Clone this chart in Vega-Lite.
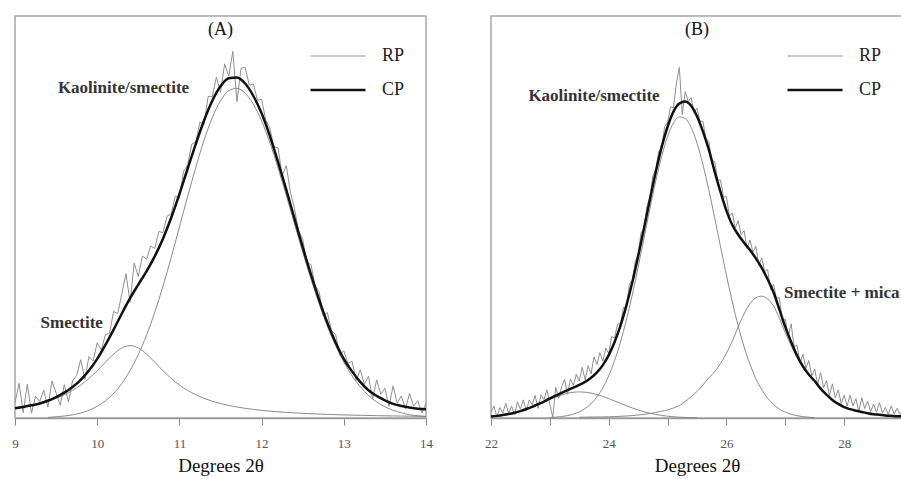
{
 "$schema": "https://vega.github.io/schema/vega-lite/v6.json",
 "background": "white",
 "padding": {"left": 9, "top": 15, "right": 1, "bottom": 0},
 "bounds": "flush",
 "spacing": 65,
 "config": {
  "view": {"stroke": "#a6a6a6", "strokeWidth": 1.5},
  "font": "Liberation Serif",
  "axis": {"domainColor": "#9a9a9a", "domainWidth": 1.5, "tickColor": "#888888", "tickSize": 7, "tickWidth": 1, "labelColor": "#555555", "labelFontSize": 13, "labelFont": "Liberation Serif", "labelPadding": 12, "labelFlush": false, "labelOverlap": false, "titleFont": "Liberation Serif", "titleFontSize": 19, "titleFontWeight": "normal", "titleColor": "#111111", "titlePadding": 6, "grid": false}
 },
 "resolve": {"scale": {"color": "independent", "strokeWidth": "independent"}, "legend": {"color": "independent", "strokeWidth": "independent"}},
 "datasets": {
  "a": [
   {"t":9.00,"s":"RP","v":3.9},{"t":9.05,"s":"RP","v":8.6},{"t":9.10,"s":"RP","v":1.3},{"t":9.15,"s":"RP","v":8.4},{"t":9.20,"s":"RP","v":1.2},{"t":9.25,"s":"RP","v":5.4},{"t":9.30,"s":"RP","v":4.1},{"t":9.35,"s":"RP","v":6.9},{"t":9.40,"s":"RP","v":2.7},{"t":9.45,"s":"RP","v":9.2},{"t":9.50,"s":"RP","v":6.2},{"t":9.55,"s":"RP","v":3.2},{"t":9.60,"s":"RP","v":8.3},{"t":9.65,"s":"RP","v":4.0},{"t":9.70,"s":"RP","v":9.2},{"t":9.75,"s":"RP","v":10.6},{"t":9.80,"s":"RP","v":14.5},{"t":9.85,"s":"RP","v":9.6},{"t":9.90,"s":"RP","v":15.3},{"t":9.95,"s":"RP","v":14.2},
   {"t":10.00,"s":"RP","v":18.7},{"t":10.05,"s":"RP","v":16.9},{"t":10.10,"s":"RP","v":20.7},{"t":10.15,"s":"RP","v":21.1},{"t":10.20,"s":"RP","v":26.5},{"t":10.25,"s":"RP","v":26.0},{"t":10.30,"s":"RP","v":31.0},{"t":10.35,"s":"RP","v":35.9},{"t":10.40,"s":"RP","v":28.8},{"t":10.45,"s":"RP","v":38.5},{"t":10.50,"s":"RP","v":35.2},{"t":10.55,"s":"RP","v":40.3},{"t":10.60,"s":"RP","v":39.5},{"t":10.65,"s":"RP","v":42.8},{"t":10.70,"s":"RP","v":42.2},{"t":10.75,"s":"RP","v":46.4},{"t":10.80,"s":"RP","v":46.1},{"t":10.85,"s":"RP","v":50.2},{"t":10.90,"s":"RP","v":50.8},{"t":10.95,"s":"RP","v":55.2},
   {"t":11.00,"s":"RP","v":54.7},{"t":11.05,"s":"RP","v":61.3},{"t":11.10,"s":"RP","v":63.0},{"t":11.15,"s":"RP","v":68.1},{"t":11.20,"s":"RP","v":68.7},{"t":11.25,"s":"RP","v":73.6},{"t":11.30,"s":"RP","v":73.0},{"t":11.35,"s":"RP","v":80.0},{"t":11.40,"s":"RP","v":79.9},{"t":11.45,"s":"RP","v":84.8},{"t":11.50,"s":"RP","v":81.0},{"t":11.55,"s":"RP","v":88.1},{"t":11.60,"s":"RP","v":85.0},{"t":11.65,"s":"RP","v":91.2},{"t":11.70,"s":"RP","v":78.7},{"t":11.75,"s":"RP","v":87.0},{"t":11.80,"s":"RP","v":87.2},{"t":11.85,"s":"RP","v":82.8},{"t":11.90,"s":"RP","v":83.1},{"t":11.95,"s":"RP","v":79.0},
   {"t":12.00,"s":"RP","v":79.3},{"t":12.05,"s":"RP","v":74.1},{"t":12.10,"s":"RP","v":72.2},{"t":12.15,"s":"RP","v":67.5},{"t":12.20,"s":"RP","v":67.2},{"t":12.25,"s":"RP","v":60.3},{"t":12.30,"s":"RP","v":62.8},{"t":12.35,"s":"RP","v":56.2},{"t":12.40,"s":"RP","v":52.1},{"t":12.45,"s":"RP","v":46.5},{"t":12.50,"s":"RP","v":44.5},{"t":12.55,"s":"RP","v":38.6},{"t":12.60,"s":"RP","v":38.2},{"t":12.65,"s":"RP","v":33.0},{"t":12.70,"s":"RP","v":31.4},{"t":12.75,"s":"RP","v":25.5},{"t":12.80,"s":"RP","v":26.2},{"t":12.85,"s":"RP","v":21.7},{"t":12.90,"s":"RP","v":20.8},{"t":12.95,"s":"RP","v":15.7},
   {"t":13.00,"s":"RP","v":16.7},{"t":13.05,"s":"RP","v":13.6},{"t":13.10,"s":"RP","v":14.1},{"t":13.15,"s":"RP","v":9.3},{"t":13.20,"s":"RP","v":12.0},{"t":13.25,"s":"RP","v":8.4},{"t":13.30,"s":"RP","v":10.4},{"t":13.35,"s":"RP","v":4.7},{"t":13.40,"s":"RP","v":9.5},{"t":13.45,"s":"RP","v":5.9},{"t":13.50,"s":"RP","v":7.4},{"t":13.55,"s":"RP","v":2.9},{"t":13.60,"s":"RP","v":8.0},{"t":13.65,"s":"RP","v":3.7},{"t":13.70,"s":"RP","v":5.5},{"t":13.75,"s":"RP","v":2.3},{"t":13.80,"s":"RP","v":6.1},{"t":13.85,"s":"RP","v":2.95},{"t":13.90,"s":"RP","v":4.3},{"t":13.95,"s":"RP","v":1.25},{"t":14.00,"s":"RP","v":3.7},
   {"t":9.0,"s":"CP","v":2.4},{"t":9.1,"s":"CP","v":2.75},{"t":9.2,"s":"CP","v":3.15},{"t":9.3,"s":"CP","v":3.6},{"t":9.4,"s":"CP","v":4.3},{"t":9.5,"s":"CP","v":5.2},{"t":9.6,"s":"CP","v":6.3},{"t":9.7,"s":"CP","v":7.7},{"t":9.8,"s":"CP","v":9.5},{"t":9.9,"s":"CP","v":11.8},{"t":10.0,"s":"CP","v":14.7},{"t":10.1,"s":"CP","v":18.2},{"t":10.2,"s":"CP","v":22.0},{"t":10.3,"s":"CP","v":26.0},{"t":10.4,"s":"CP","v":29.8},{"t":10.5,"s":"CP","v":33.2},{"t":10.6,"s":"CP","v":36.5},{"t":10.7,"s":"CP","v":40.2},{"t":10.8,"s":"CP","v":44.6},{"t":10.9,"s":"CP","v":49.8},{"t":11.0,"s":"CP","v":55.7},{"t":11.1,"s":"CP","v":62.0},{"t":11.2,"s":"CP","v":68.2},{"t":11.3,"s":"CP","v":74.0},{"t":11.4,"s":"CP","v":78.9},{"t":11.5,"s":"CP","v":82.5},{"t":11.6,"s":"CP","v":84.5},{"t":11.7,"s":"CP","v":84.7},{"t":11.8,"s":"CP","v":83.2},{"t":11.9,"s":"CP","v":80.1},{"t":12.0,"s":"CP","v":75.8},{"t":12.1,"s":"CP","v":70.2},{"t":12.2,"s":"CP","v":63.7},{"t":12.3,"s":"CP","v":56.8},{"t":12.4,"s":"CP","v":49.6},{"t":12.5,"s":"CP","v":42.5},{"t":12.6,"s":"CP","v":35.7},{"t":12.7,"s":"CP","v":29.4},{"t":12.8,"s":"CP","v":23.7},{"t":12.9,"s":"CP","v":18.8},{"t":13.0,"s":"CP","v":14.7},{"t":13.1,"s":"CP","v":11.6},{"t":13.2,"s":"CP","v":9.0},{"t":13.3,"s":"CP","v":6.9},{"t":13.4,"s":"CP","v":5.5},{"t":13.5,"s":"CP","v":4.4},{"t":13.6,"s":"CP","v":3.5},{"t":13.7,"s":"CP","v":3.0},{"t":13.8,"s":"CP","v":2.6},{"t":13.9,"s":"CP","v":2.3},{"t":14.0,"s":"CP","v":2.2},
   {"t":9.0,"s":"S","v":2.41},{"t":9.1,"s":"S","v":2.73},{"t":9.2,"s":"S","v":3.13},{"t":9.3,"s":"S","v":3.6},{"t":9.4,"s":"S","v":4.18},{"t":9.5,"s":"S","v":4.89},{"t":9.6,"s":"S","v":5.78},{"t":9.7,"s":"S","v":6.87},{"t":9.8,"s":"S","v":8.22},{"t":9.9,"s":"S","v":9.86},{"t":10.0,"s":"S","v":11.77},{"t":10.1,"s":"S","v":13.87},{"t":10.2,"s":"S","v":15.9},{"t":10.3,"s":"S","v":17.42},{"t":10.4,"s":"S","v":18.0},{"t":10.5,"s":"S","v":17.42},{"t":10.6,"s":"S","v":15.9},{"t":10.7,"s":"S","v":13.87},{"t":10.8,"s":"S","v":11.77},{"t":10.9,"s":"S","v":9.86},{"t":11.0,"s":"S","v":8.22},{"t":11.1,"s":"S","v":6.87},{"t":11.2,"s":"S","v":5.78},{"t":11.3,"s":"S","v":4.89},{"t":11.4,"s":"S","v":4.18},{"t":11.5,"s":"S","v":3.6},{"t":11.6,"s":"S","v":3.13},{"t":11.7,"s":"S","v":2.73},{"t":11.8,"s":"S","v":2.41},{"t":11.9,"s":"S","v":2.13},{"t":12.0,"s":"S","v":1.9},{"t":12.1,"s":"S","v":1.71},{"t":12.2,"s":"S","v":1.54},{"t":12.3,"s":"S","v":1.39},{"t":12.4,"s":"S","v":1.27},{"t":12.5,"s":"S","v":1.16},{"t":12.6,"s":"S","v":1.06},{"t":12.7,"s":"S","v":0.97},{"t":12.8,"s":"S","v":0.9},{"t":12.9,"s":"S","v":0.83},{"t":13.0,"s":"S","v":0.77},{"t":13.2,"s":"S","v":0.67},{"t":13.4,"s":"S","v":0.585},{"t":13.6,"s":"S","v":0.516},{"t":13.8,"s":"S","v":0.46},{"t":14.0,"s":"S","v":0.41},
   {"t":9.4,"s":"K","v":0.15},{"t":9.5,"s":"K","v":0.3},{"t":9.6,"s":"K","v":0.49},{"t":9.7,"s":"K","v":0.79},{"t":9.8,"s":"K","v":1.25},{"t":9.9,"s":"K","v":1.93},{"t":10.0,"s":"K","v":2.9},{"t":10.1,"s":"K","v":4.3},{"t":10.2,"s":"K","v":6.1},{"t":10.3,"s":"K","v":8.6},{"t":10.4,"s":"K","v":11.8},{"t":10.5,"s":"K","v":15.8},{"t":10.6,"s":"K","v":20.6},{"t":10.7,"s":"K","v":26.3},{"t":10.8,"s":"K","v":32.8},{"t":10.9,"s":"K","v":39.9},{"t":11.0,"s":"K","v":47.5},{"t":11.1,"s":"K","v":55.1},{"t":11.2,"s":"K","v":62.4},{"t":11.3,"s":"K","v":69.1},{"t":11.4,"s":"K","v":74.7},{"t":11.5,"s":"K","v":78.9},{"t":11.6,"s":"K","v":81.4},{"t":11.7,"s":"K","v":82.0},{"t":11.8,"s":"K","v":80.8},{"t":11.9,"s":"K","v":78.0},{"t":12.0,"s":"K","v":73.9},{"t":12.1,"s":"K","v":68.5},{"t":12.2,"s":"K","v":62.2},{"t":12.3,"s":"K","v":55.4},{"t":12.4,"s":"K","v":48.3},{"t":12.5,"s":"K","v":41.3},{"t":12.6,"s":"K","v":34.6},{"t":12.7,"s":"K","v":28.4},{"t":12.8,"s":"K","v":22.8},{"t":12.9,"s":"K","v":18.0},{"t":13.0,"s":"K","v":13.9},{"t":13.1,"s":"K","v":10.5},{"t":13.2,"s":"K","v":7.8},{"t":13.3,"s":"K","v":5.6},{"t":13.4,"s":"K","v":4.0},{"t":13.5,"s":"K","v":2.8},{"t":13.6,"s":"K","v":1.9},{"t":13.7,"s":"K","v":1.3},{"t":13.8,"s":"K","v":0.8},{"t":13.9,"s":"K","v":0.55},{"t":14.0,"s":"K","v":0.35}
  ],
  "b": [
   {"t":22.00,"s":"RP","v":1.4},{"t":22.05,"s":"RP","v":3.0},{"t":22.10,"s":"RP","v":0.2},{"t":22.15,"s":"RP","v":2.6},{"t":22.20,"s":"RP","v":1.2},{"t":22.25,"s":"RP","v":3.65},{"t":22.30,"s":"RP","v":1.2},{"t":22.35,"s":"RP","v":2.95},{"t":22.40,"s":"RP","v":0.8},{"t":22.45,"s":"RP","v":4.0},{"t":22.50,"s":"RP","v":2.2},{"t":22.55,"s":"RP","v":4.5},{"t":22.60,"s":"RP","v":1.7},{"t":22.65,"s":"RP","v":4.5},{"t":22.70,"s":"RP","v":3.3},{"t":22.75,"s":"RP","v":5.6},{"t":22.80,"s":"RP","v":2.4},{"t":22.85,"s":"RP","v":5.75},{"t":22.90,"s":"RP","v":4.6},{"t":22.95,"s":"RP","v":7.0},
   {"t":23.00,"s":"RP","v":3.4},{"t":23.05,"s":"RP","v":0.2},{"t":23.10,"s":"RP","v":7.6},{"t":23.15,"s":"RP","v":4.9},{"t":23.20,"s":"RP","v":7.75},{"t":23.25,"s":"RP","v":9.6},{"t":23.30,"s":"RP","v":5.9},{"t":23.35,"s":"RP","v":9.7},{"t":23.40,"s":"RP","v":8.1},{"t":23.45,"s":"RP","v":10.9},{"t":23.50,"s":"RP","v":9.2},{"t":23.55,"s":"RP","v":12.6},{"t":23.60,"s":"RP","v":9.5},{"t":23.65,"s":"RP","v":13.0},{"t":23.70,"s":"RP","v":11.0},{"t":23.75,"s":"RP","v":15.2},{"t":23.80,"s":"RP","v":13.3},{"t":23.85,"s":"RP","v":16.25},{"t":23.90,"s":"RP","v":14.15},{"t":23.95,"s":"RP","v":17.4},
   {"t":24.00,"s":"RP","v":16.1},{"t":24.05,"s":"RP","v":20.3},{"t":24.10,"s":"RP","v":19.9},{"t":24.15,"s":"RP","v":23.4},{"t":24.20,"s":"RP","v":23.5},{"t":24.25,"s":"RP","v":27.5},{"t":24.30,"s":"RP","v":27.45},{"t":24.35,"s":"RP","v":33.3},{"t":24.40,"s":"RP","v":34.2},{"t":24.45,"s":"RP","v":38.9},{"t":24.50,"s":"RP","v":40.7},{"t":24.55,"s":"RP","v":46.2},{"t":24.60,"s":"RP","v":46.75},{"t":24.65,"s":"RP","v":52.8},{"t":24.70,"s":"RP","v":54.9},{"t":24.75,"s":"RP","v":60.3},{"t":24.80,"s":"RP","v":61.8},{"t":24.85,"s":"RP","v":66.4},{"t":24.90,"s":"RP","v":66.9},{"t":24.95,"s":"RP","v":72.5},
   {"t":25.00,"s":"RP","v":73.45},{"t":25.05,"s":"RP","v":77.4},{"t":25.10,"s":"RP","v":77.2},{"t":25.15,"s":"RP","v":83.3},{"t":25.20,"s":"RP","v":87.2},{"t":25.25,"s":"RP","v":75.5},{"t":25.30,"s":"RP","v":81.2},{"t":25.35,"s":"RP","v":78.8},{"t":25.40,"s":"RP","v":79.7},{"t":25.45,"s":"RP","v":76.0},{"t":25.50,"s":"RP","v":77.06},{"t":25.55,"s":"RP","v":73.8},{"t":25.60,"s":"RP","v":73.8},{"t":25.65,"s":"RP","v":69.6},{"t":25.70,"s":"RP","v":68.8},{"t":25.75,"s":"RP","v":64.1},{"t":25.80,"s":"RP","v":63.8},{"t":25.85,"s":"RP","v":59.3},{"t":25.90,"s":"RP","v":59.2},{"t":25.95,"s":"RP","v":54.9},
   {"t":26.00,"s":"RP","v":55.1},{"t":26.05,"s":"RP","v":50.3},{"t":26.10,"s":"RP","v":51.0},{"t":26.15,"s":"RP","v":47.3},{"t":26.20,"s":"RP","v":49.1},{"t":26.25,"s":"RP","v":45.6},{"t":26.30,"s":"RP","v":46.6},{"t":26.35,"s":"RP","v":42.2},{"t":26.40,"s":"RP","v":44.3},{"t":26.45,"s":"RP","v":41.25},{"t":26.50,"s":"RP","v":42.7},{"t":26.55,"s":"RP","v":38.0},{"t":26.60,"s":"RP","v":39.85},{"t":26.65,"s":"RP","v":36.4},{"t":26.70,"s":"RP","v":37.0},{"t":26.75,"s":"RP","v":31.9},{"t":26.80,"s":"RP","v":33.3},{"t":26.85,"s":"RP","v":29.7},{"t":26.90,"s":"RP","v":30.0},{"t":26.95,"s":"RP","v":23.8},
   {"t":27.00,"s":"RP","v":24.65},{"t":27.05,"s":"RP","v":20.3},{"t":27.10,"s":"RP","v":23.4},{"t":27.15,"s":"RP","v":17.7},{"t":27.20,"s":"RP","v":18.1},{"t":27.25,"s":"RP","v":13.7},{"t":27.30,"s":"RP","v":15.84},{"t":27.35,"s":"RP","v":12.3},{"t":27.40,"s":"RP","v":14.3},{"t":27.45,"s":"RP","v":10.5},{"t":27.50,"s":"RP","v":12.2},{"t":27.55,"s":"RP","v":8.25},{"t":27.60,"s":"RP","v":11.3},{"t":27.65,"s":"RP","v":7.55},{"t":27.70,"s":"RP","v":9.3},{"t":27.75,"s":"RP","v":5.65},{"t":27.80,"s":"RP","v":8.5},{"t":27.85,"s":"RP","v":5.0},{"t":27.90,"s":"RP","v":7.0},{"t":27.95,"s":"RP","v":3.6},
   {"t":28.00,"s":"RP","v":5.7},{"t":28.05,"s":"RP","v":2.95},{"t":28.10,"s":"RP","v":5.7},{"t":28.15,"s":"RP","v":3.0},{"t":28.20,"s":"RP","v":4.8},{"t":28.25,"s":"RP","v":1.65},{"t":28.30,"s":"RP","v":5.0},{"t":28.35,"s":"RP","v":2.35},{"t":28.40,"s":"RP","v":4.2},{"t":28.45,"s":"RP","v":1.6},{"t":28.50,"s":"RP","v":3.45},{"t":28.55,"s":"RP","v":1.4},{"t":28.60,"s":"RP","v":3.8},{"t":28.65,"s":"RP","v":1.2},{"t":28.70,"s":"RP","v":2.65},{"t":28.75,"s":"RP","v":0.9},{"t":28.80,"s":"RP","v":3.05},{"t":28.85,"s":"RP","v":1.0},{"t":28.90,"s":"RP","v":2.45},{"t":28.95,"s":"RP","v":0.92},{"t":29.00,"s":"RP","v":1.9},
   {"t":22.0,"s":"CP","v":0.4},{"t":22.1,"s":"CP","v":0.53},{"t":22.2,"s":"CP","v":0.72},{"t":22.3,"s":"CP","v":0.98},{"t":22.4,"s":"CP","v":1.31},{"t":22.5,"s":"CP","v":1.72},{"t":22.6,"s":"CP","v":2.23},{"t":22.7,"s":"CP","v":2.79},{"t":22.8,"s":"CP","v":3.42},{"t":22.9,"s":"CP","v":4.08},{"t":23.0,"s":"CP","v":4.86},{"t":23.1,"s":"CP","v":5.56},{"t":23.2,"s":"CP","v":6.25},{"t":23.3,"s":"CP","v":6.92},{"t":23.4,"s":"CP","v":7.56},{"t":23.5,"s":"CP","v":8.23},{"t":23.6,"s":"CP","v":9.0},{"t":23.7,"s":"CP","v":10.0},{"t":23.8,"s":"CP","v":11.34},{"t":23.9,"s":"CP","v":13.15},{"t":24.0,"s":"CP","v":15.63},{"t":24.1,"s":"CP","v":18.9},{"t":24.2,"s":"CP","v":22.96},{"t":24.3,"s":"CP","v":27.95},{"t":24.4,"s":"CP","v":33.69},{"t":24.5,"s":"CP","v":40.24},{"t":24.6,"s":"CP","v":47.25},{"t":24.7,"s":"CP","v":54.38},{"t":24.8,"s":"CP","v":61.28},{"t":24.9,"s":"CP","v":67.44},{"t":25.0,"s":"CP","v":72.45},{"t":25.1,"s":"CP","v":76.21},{"t":25.2,"s":"CP","v":78.21},{"t":25.3,"s":"CP","v":78.74},{"t":25.4,"s":"CP","v":77.69},{"t":25.5,"s":"CP","v":75.06},{"t":25.6,"s":"CP","v":71.3},{"t":25.7,"s":"CP","v":66.8},{"t":25.8,"s":"CP","v":61.3},{"t":25.9,"s":"CP","v":56.2},{"t":26.0,"s":"CP","v":51.6},{"t":26.1,"s":"CP","v":48.0},{"t":26.2,"s":"CP","v":45.6},{"t":26.3,"s":"CP","v":43.6},{"t":26.4,"s":"CP","v":41.8},{"t":26.5,"s":"CP","v":39.7},{"t":26.6,"s":"CP","v":37.35},{"t":26.7,"s":"CP","v":34.5},{"t":26.8,"s":"CP","v":31.3},{"t":26.9,"s":"CP","v":27.0},{"t":27.0,"s":"CP","v":22.65},{"t":27.1,"s":"CP","v":18.92},{"t":27.2,"s":"CP","v":15.56},{"t":27.3,"s":"CP","v":12.84},{"t":27.4,"s":"CP","v":10.8},{"t":27.5,"s":"CP","v":9.2},{"t":27.6,"s":"CP","v":7.3},{"t":27.7,"s":"CP","v":5.8},{"t":27.8,"s":"CP","v":4.5},{"t":27.9,"s":"CP","v":3.5},{"t":28.0,"s":"CP","v":2.7},{"t":28.1,"s":"CP","v":2.2},{"t":28.2,"s":"CP","v":1.8},{"t":28.3,"s":"CP","v":1.5},{"t":28.4,"s":"CP","v":1.2},{"t":28.5,"s":"CP","v":0.95},{"t":28.6,"s":"CP","v":0.8},{"t":28.7,"s":"CP","v":0.65},{"t":28.8,"s":"CP","v":0.55},{"t":28.9,"s":"CP","v":0.45},{"t":29.0,"s":"CP","v":0.4},
   {"t":23.0,"s":"K","v":0.12},{"t":23.1,"s":"K","v":0.2},{"t":23.2,"s":"K","v":0.35},{"t":23.3,"s":"K","v":0.59},{"t":23.4,"s":"K","v":0.96},{"t":23.5,"s":"K","v":1.53},{"t":23.6,"s":"K","v":2.37},{"t":23.7,"s":"K","v":3.57},{"t":23.8,"s":"K","v":5.25},{"t":23.9,"s":"K","v":7.5},{"t":24.0,"s":"K","v":10.5},{"t":24.1,"s":"K","v":14.3},{"t":24.2,"s":"K","v":18.9},{"t":24.3,"s":"K","v":24.4},{"t":24.4,"s":"K","v":30.6},{"t":24.5,"s":"K","v":37.5},{"t":24.6,"s":"K","v":44.8},{"t":24.7,"s":"K","v":52.1},{"t":24.8,"s":"K","v":59.0},{"t":24.9,"s":"K","v":65.1},{"t":25.0,"s":"K","v":70.0},{"t":25.1,"s":"K","v":73.4},{"t":25.2,"s":"K","v":74.9},{"t":25.3,"s":"K","v":74.5},{"t":25.4,"s":"K","v":72.3},{"t":25.5,"s":"K","v":68.4},{"t":25.6,"s":"K","v":63.1},{"t":25.7,"s":"K","v":56.8},{"t":25.8,"s":"K","v":49.8},{"t":25.9,"s":"K","v":42.6},{"t":26.0,"s":"K","v":35.5},{"t":26.1,"s":"K","v":28.9},{"t":26.2,"s":"K","v":22.9},{"t":26.3,"s":"K","v":17.7},{"t":26.4,"s":"K","v":13.4},{"t":26.5,"s":"K","v":9.8},{"t":26.6,"s":"K","v":7.05},{"t":26.7,"s":"K","v":4.9},{"t":26.8,"s":"K","v":3.4},{"t":26.9,"s":"K","v":2.2},{"t":27.0,"s":"K","v":1.45},{"t":27.1,"s":"K","v":0.92},{"t":27.2,"s":"K","v":0.56},{"t":27.3,"s":"K","v":0.34},{"t":27.4,"s":"K","v":0.2},{"t":27.5,"s":"K","v":0.1},
   {"t":22.0,"s":"P","v":0.29},{"t":22.1,"s":"P","v":0.43},{"t":22.2,"s":"P","v":0.62},{"t":22.3,"s":"P","v":0.88},{"t":22.4,"s":"P","v":1.21},{"t":22.5,"s":"P","v":1.62},{"t":22.6,"s":"P","v":2.11},{"t":22.7,"s":"P","v":2.67},{"t":22.8,"s":"P","v":3.29},{"t":22.9,"s":"P","v":3.94},{"t":23.0,"s":"P","v":4.59},{"t":23.1,"s":"P","v":5.2},{"t":23.2,"s":"P","v":5.73},{"t":23.3,"s":"P","v":6.15},{"t":23.4,"s":"P","v":6.41},{"t":23.5,"s":"P","v":6.5},{"t":23.6,"s":"P","v":6.42},{"t":23.7,"s":"P","v":6.2},{"t":23.8,"s":"P","v":5.84},{"t":23.9,"s":"P","v":5.38},{"t":24.0,"s":"P","v":4.83},{"t":24.1,"s":"P","v":4.25},{"t":24.2,"s":"P","v":3.64},{"t":24.3,"s":"P","v":3.05},{"t":24.4,"s":"P","v":2.49},{"t":24.5,"s":"P","v":1.99},{"t":24.6,"s":"P","v":1.55},{"t":24.7,"s":"P","v":1.18},{"t":24.8,"s":"P","v":0.88},{"t":24.9,"s":"P","v":0.64},{"t":25.0,"s":"P","v":0.45},{"t":25.1,"s":"P","v":0.31},{"t":25.2,"s":"P","v":0.21},{"t":25.3,"s":"P","v":0.14},{"t":25.4,"s":"P","v":0.09},{"t":25.5,"s":"P","v":0.06},
   {"t":23.5,"s":"M","v":0.2},{"t":23.6,"s":"M","v":0.21},{"t":23.7,"s":"M","v":0.23},{"t":23.8,"s":"M","v":0.25},{"t":23.9,"s":"M","v":0.27},{"t":24.0,"s":"M","v":0.3},{"t":24.1,"s":"M","v":0.35},{"t":24.2,"s":"M","v":0.42},{"t":24.3,"s":"M","v":0.5},{"t":24.4,"s":"M","v":0.6},{"t":24.5,"s":"M","v":0.75},{"t":24.6,"s":"M","v":0.9},{"t":24.7,"s":"M","v":1.1},{"t":24.8,"s":"M","v":1.4},{"t":24.9,"s":"M","v":1.7},{"t":25.0,"s":"M","v":2.0},{"t":25.1,"s":"M","v":2.5},{"t":25.2,"s":"M","v":3.1},{"t":25.3,"s":"M","v":4.1},{"t":25.4,"s":"M","v":5.3},{"t":25.5,"s":"M","v":6.6},{"t":25.6,"s":"M","v":8.2},{"t":25.7,"s":"M","v":10.0},{"t":25.8,"s":"M","v":11.5},{"t":25.9,"s":"M","v":13.6},{"t":26.0,"s":"M","v":16.1},{"t":26.1,"s":"M","v":19.1},{"t":26.2,"s":"M","v":22.7},{"t":26.3,"s":"M","v":25.9},{"t":26.4,"s":"M","v":28.4},{"t":26.5,"s":"M","v":29.9},{"t":26.6,"s":"M","v":30.3},{"t":26.7,"s":"M","v":29.6},{"t":26.8,"s":"M","v":27.9},{"t":26.9,"s":"M","v":24.8},{"t":27.0,"s":"M","v":21.2},{"t":27.1,"s":"M","v":18.0},{"t":27.2,"s":"M","v":15.0},{"t":27.3,"s":"M","v":12.5},{"t":27.4,"s":"M","v":10.6},{"t":27.5,"s":"M","v":9.1},{"t":27.6,"s":"M","v":7.3},{"t":27.7,"s":"M","v":5.8},{"t":27.8,"s":"M","v":4.5},{"t":27.9,"s":"M","v":3.5},{"t":28.0,"s":"M","v":2.7},{"t":28.1,"s":"M","v":2.2},{"t":28.2,"s":"M","v":1.8},{"t":28.3,"s":"M","v":1.5},{"t":28.4,"s":"M","v":1.2},{"t":28.5,"s":"M","v":0.95},{"t":28.6,"s":"M","v":0.8},{"t":28.7,"s":"M","v":0.65},{"t":28.8,"s":"M","v":0.55},{"t":28.9,"s":"M","v":0.45},{"t":29.0,"s":"M","v":0.4}
  ],
  "la": [
   {"label": "Kaolinite/smectite", "t": 10.32, "v": 82.1},
   {"label": "Smectite", "t": 9.69, "v": 23.6}
  ],
  "lb": [
   {"label": "Kaolinite/smectite", "t": 23.75, "v": 80.1},
   {"label": "Smectite + mica", "t": 27.96, "v": 31.1}
  ]
 },
 "hconcat": [
  {
   "width": 411,
   "height": 402,
   "title": {"text": "(A)", "offset": -32, "baseline": "middle", "fontSize": 18, "fontWeight": "normal", "font": "Liberation Serif", "color": "#111111", "anchor": "middle"},
   "encoding": {
    "x": {"field": "t", "type": "quantitative", "scale": {"domain": [9, 14], "nice": false, "zero": false}, "axis": {"values": [9, 9.5, 10, 10.5, 11, 11.5, 12, 12.5, 13, 13.5, 14], "format": "d", "labelExpr": "datum.value % 1 === 0 ? datum.label : ''", "title": "Degrees 2θ"}},
    "y": {"field": "v", "type": "quantitative", "scale": {"domain": [0, 100], "nice": false}, "axis": null}
   },
   "layer": [
    {"data": {"name": "a"}, "transform": [{"filter": "datum.s === 'K' || datum.s === 'S'"}], "mark": {"type": "line", "interpolate": "monotone", "color": "#7d7d7d", "strokeWidth": 0.9}, "encoding": {"detail": {"field": "s"}}},
    {"data": {"name": "a"}, "transform": [{"filter": "datum.s === 'RP'"}], "mark": {"type": "line", "strokeJoin": "round"},
     "encoding": {
      "color": {"field": "s", "type": "nominal", "scale": {"domain": ["RP", "CP"], "range": ["#8f8f8f", "#111111"]}, "legend": {"title": null, "orient": "none", "legendX": 294, "legendY": 30, "symbolType": "stroke", "symbolSize": 3025, "clipHeight": 20, "rowPadding": 14, "labelOffset": 15, "labelFontSize": 18, "labelFont": "Liberation Serif", "labelColor": "#222222", "padding": 0}},
      "strokeWidth": {"field": "s", "type": "ordinal", "scale": {"domain": ["RP", "CP"], "range": [1, 2.5]}, "legend": {"title": null, "orient": "none", "legendX": 294, "legendY": 30, "symbolType": "stroke", "symbolSize": 3025, "clipHeight": 20, "rowPadding": 14, "labelOffset": 15, "labelFontSize": 18, "labelFont": "Liberation Serif", "labelColor": "#222222", "padding": 0}}
     }},
    {"data": {"name": "a"}, "transform": [{"filter": "datum.s === 'CP'"}], "mark": {"type": "line", "interpolate": "monotone"},
     "encoding": {
      "color": {"field": "s", "type": "nominal", "scale": {"domain": ["RP", "CP"], "range": ["#8f8f8f", "#111111"]}},
      "strokeWidth": {"field": "s", "type": "ordinal", "scale": {"domain": ["RP", "CP"], "range": [1, 2.5]}}
     }},
    {"data": {"name": "la"}, "mark": {"type": "text", "fontSize": 17, "fontWeight": "bold", "font": "Liberation Serif", "color": "#333333"}, "encoding": {"text": {"field": "label"}}}
   ]
  },
  {
   "width": 412,
   "height": 402,
   "title": {"text": "(B)", "offset": -32, "baseline": "middle", "fontSize": 18, "fontWeight": "normal", "font": "Liberation Serif", "color": "#111111", "anchor": "middle"},
   "encoding": {
    "x": {"field": "t", "type": "quantitative", "scale": {"domain": [22, 29], "nice": false, "zero": false}, "axis": {"values": [22, 23, 24, 25, 26, 27, 28, 29], "format": "d", "labelExpr": "datum.value % 2 === 0 ? datum.label : ''", "title": "Degrees 2θ"}},
    "y": {"field": "v", "type": "quantitative", "scale": {"domain": [0, 100], "nice": false}, "axis": null}
   },
   "layer": [
    {"data": {"name": "b"}, "transform": [{"filter": "datum.s === 'K' || datum.s === 'P' || datum.s === 'M'"}], "mark": {"type": "line", "interpolate": "monotone", "color": "#7d7d7d", "strokeWidth": 0.9}, "encoding": {"detail": {"field": "s"}}},
    {"data": {"name": "b"}, "transform": [{"filter": "datum.s === 'RP'"}], "mark": {"type": "line", "strokeJoin": "round"},
     "encoding": {
      "color": {"field": "s", "type": "nominal", "scale": {"domain": ["RP", "CP"], "range": ["#8f8f8f", "#111111"]}, "legend": {"title": null, "orient": "none", "legendX": 295, "legendY": 30, "symbolType": "stroke", "symbolSize": 3025, "clipHeight": 20, "rowPadding": 14, "labelOffset": 15, "labelFontSize": 18, "labelFont": "Liberation Serif", "labelColor": "#222222", "padding": 0}},
      "strokeWidth": {"field": "s", "type": "ordinal", "scale": {"domain": ["RP", "CP"], "range": [1, 2.5]}, "legend": {"title": null, "orient": "none", "legendX": 295, "legendY": 30, "symbolType": "stroke", "symbolSize": 3025, "clipHeight": 20, "rowPadding": 14, "labelOffset": 15, "labelFontSize": 18, "labelFont": "Liberation Serif", "labelColor": "#222222", "padding": 0}}
     }},
    {"data": {"name": "b"}, "transform": [{"filter": "datum.s === 'CP'"}], "mark": {"type": "line", "interpolate": "monotone"},
     "encoding": {
      "color": {"field": "s", "type": "nominal", "scale": {"domain": ["RP", "CP"], "range": ["#8f8f8f", "#111111"]}},
      "strokeWidth": {"field": "s", "type": "ordinal", "scale": {"domain": ["RP", "CP"], "range": [1, 2.5]}}
     }},
    {"data": {"name": "lb"}, "mark": {"type": "text", "fontSize": 17, "fontWeight": "bold", "font": "Liberation Serif", "color": "#333333"}, "encoding": {"text": {"field": "label"}}}
   ]
  }
 ]
}
